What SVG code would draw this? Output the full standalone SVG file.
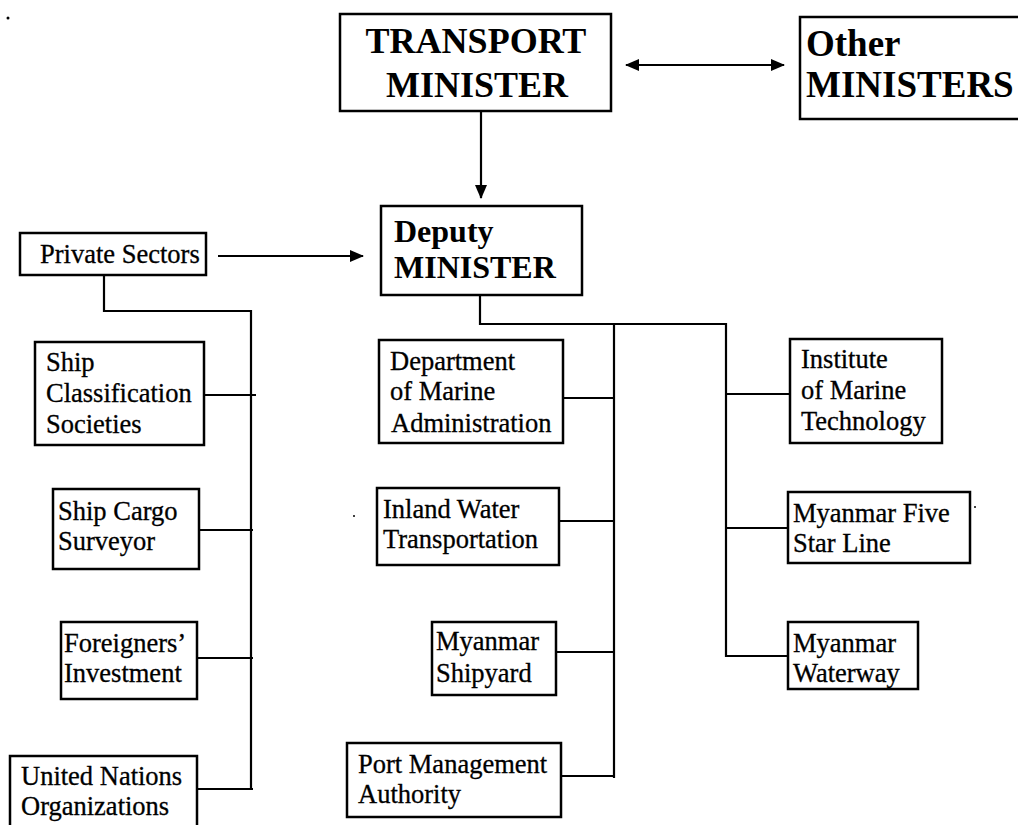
<svg xmlns="http://www.w3.org/2000/svg" width="1018" height="825" viewBox="0 0 1018 825">
<style>
.box{fill:#fff;stroke:#000;stroke-width:2.5}
.ln{fill:none;stroke:#000;stroke-width:2.2}
.t{font-family:"Liberation Serif","Times New Roman",serif;font-size:26.5px;fill:#000;stroke:#000;stroke-width:0.3}
.b{font-family:"Liberation Serif","Times New Roman",serif;font-weight:bold;fill:#000}
</style>
<defs>
<marker id="ah" viewBox="0 0 14 12" refX="13" refY="6" markerWidth="14" markerHeight="12" markerUnits="userSpaceOnUse" orient="auto-start-reverse">
<path d="M0,0 L14,6 L0,12 Z" fill="#000"/>
</marker>
</defs>
<rect width="1018" height="825" fill="#fff"/>
<circle cx="8" cy="18" r="1.5" fill="#000"/>
<circle cx="975" cy="507" r="1" fill="#000"/>
<circle cx="354" cy="516" r="1" fill="#000"/>

<g id="connectors">
<line class="ln" x1="626" y1="65" x2="784" y2="65" marker-start="url(#ah)" marker-end="url(#ah)"/>
<line class="ln" x1="481" y1="112" x2="481" y2="198" marker-end="url(#ah)"/>
<line class="ln" x1="218" y1="256" x2="363" y2="256" marker-end="url(#ah)"/>
<polyline class="ln" points="104,275 104,311 251,311 251,790"/>
<line class="ln" x1="204" y1="395" x2="256" y2="395"/>
<line class="ln" x1="199" y1="530" x2="253" y2="530"/>
<line class="ln" x1="197" y1="658" x2="253" y2="658"/>
<line class="ln" x1="197" y1="789" x2="253" y2="789"/>
<polyline class="ln" points="480,295 480,324 726,324 726,657"/>
<line class="ln" x1="614" y1="324" x2="614" y2="778"/>
<line class="ln" x1="563" y1="398" x2="614" y2="398"/>
<line class="ln" x1="559" y1="521" x2="614" y2="521"/>
<line class="ln" x1="556" y1="652" x2="614" y2="652"/>
<line class="ln" x1="561" y1="776" x2="614" y2="776"/>
<line class="ln" x1="726" y1="394" x2="790" y2="394"/>
<line class="ln" x1="726" y1="528" x2="788" y2="528"/>
<line class="ln" x1="726" y1="656" x2="788" y2="656"/>
</g>

<g id="transport-minister">
<rect class="box" x="340" y="14" width="271" height="97"/>
<text class="b" font-size="36" x="476" y="53" text-anchor="middle">TRANSPORT</text>
<text class="b" font-size="36" x="477" y="97" text-anchor="middle">MINISTER</text>
</g>
<g id="other-ministers">
<rect class="box" x="800" y="17" width="225" height="102"/>
<text class="b" font-size="37" x="806" y="56">Other</text>
<text class="b" font-size="37" x="806" y="97">MINISTERS</text>
</g>
<g id="deputy-minister">
<rect class="box" x="381" y="206" width="201" height="89"/>
<text class="b" font-size="32" x="394" y="242">Deputy</text>
<text class="b" font-size="32" x="394" y="278">MINISTER</text>
</g>
<g id="private-sectors">
<rect class="box" x="20" y="233" width="186" height="42"/>
<text class="t" x="40" y="263">Private Sectors</text>
</g>
<g id="ship-classification">
<rect class="box" x="35" y="342" width="169" height="103"/>
<text class="t" x="46" y="371">Ship</text>
<text class="t" x="46" y="402">Classification</text>
<text class="t" x="46" y="433">Societies</text>
</g>
<g id="ship-cargo">
<rect class="box" x="53" y="489" width="146" height="80"/>
<text class="t" x="58" y="520">Ship Cargo</text>
<text class="t" x="58" y="550">Surveyor</text>
</g>
<g id="foreigners-investment">
<rect class="box" x="61" y="622" width="136" height="77"/>
<text class="t" x="64" y="652">Foreigners’</text>
<text class="t" x="64" y="682">Investment</text>
</g>
<g id="united-nations">
<rect class="box" x="10" y="756" width="187" height="75"/>
<text class="t" x="21" y="785">United Nations</text>
<text class="t" x="21" y="815">Organizations</text>
</g>
<g id="dept-marine-admin">
<rect class="box" x="379" y="340" width="184" height="103"/>
<text class="t" x="390" y="370">Department</text>
<text class="t" x="390" y="400">of Marine</text>
<text class="t" x="391" y="432">Administration</text>
</g>
<g id="inland-water">
<rect class="box" x="377" y="488" width="182" height="77"/>
<text class="t" x="383" y="518">Inland Water</text>
<text class="t" x="383" y="548">Transportation</text>
</g>
<g id="myanmar-shipyard">
<rect class="box" x="432" y="622" width="124" height="73"/>
<text class="t" x="436" y="650">Myanmar</text>
<text class="t" x="436" y="682">Shipyard</text>
</g>
<g id="port-management">
<rect class="box" x="347" y="743" width="214" height="74"/>
<text class="t" x="358" y="773">Port Management</text>
<text class="t" x="358" y="803">Authority</text>
</g>
<g id="institute-marine-tech">
<rect class="box" x="790" y="339" width="152" height="104"/>
<text class="t" x="801" y="368">Institute</text>
<text class="t" x="801" y="399">of Marine</text>
<text class="t" x="801" y="430">Technology</text>
</g>
<g id="five-star-line">
<rect class="box" x="788" y="492" width="182" height="71"/>
<text class="t" x="793" y="522">Myanmar Five</text>
<text class="t" x="793" y="552">Star Line</text>
</g>
<g id="myanmar-waterway">
<rect class="box" x="788" y="622" width="130" height="67"/>
<text class="t" x="793" y="652">Myanmar</text>
<text class="t" x="793" y="682">Waterway</text>
</g>
</svg>
